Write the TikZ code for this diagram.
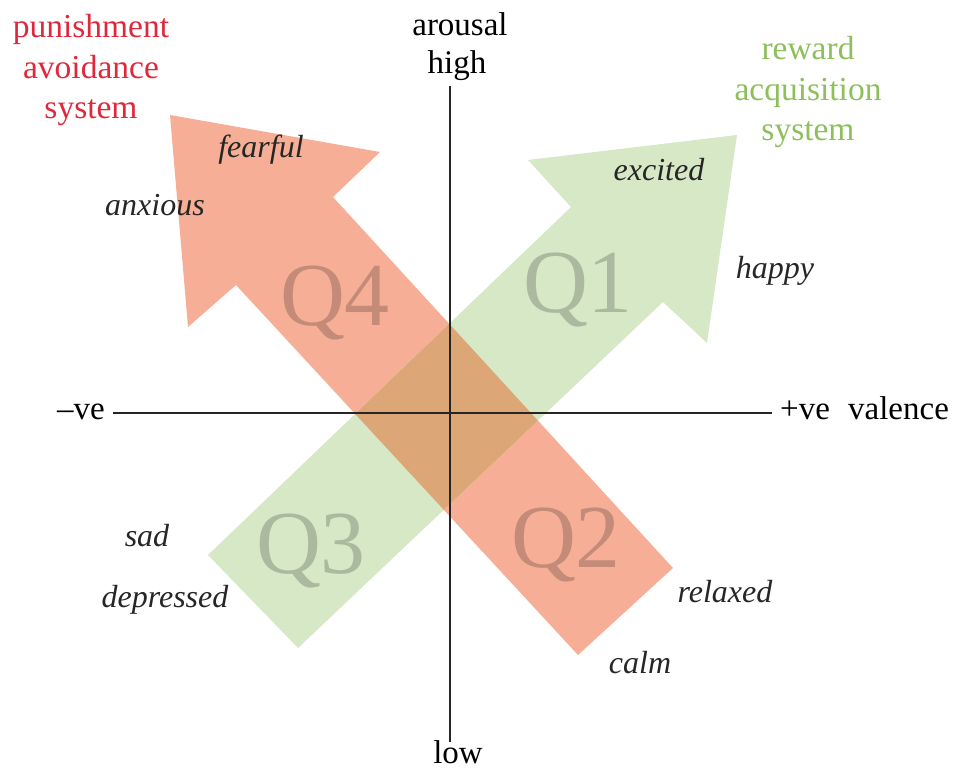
\documentclass[tikz,border=0pt]{standalone}
\usepackage{fontspec}
\setmainfont{Liberation Serif}
\usepackage{tikz}
\definecolor{punfill}{HTML}{F6AF96}
\definecolor{rewfill}{HTML}{D6E8C6}
\definecolor{bothfill}{HTML}{DCA676}
\definecolor{puntext}{HTML}{E0283C}
\definecolor{rewtext}{HTML}{8DBF5B}

\begin{document}
\begin{tikzpicture}[x=1pt, y=-1pt,
  word/.style={font=\fontsize{32}{38}\selectfont\itshape, text=black!85, inner sep=0pt, anchor=base},
  axlab/.style={font=\fontsize{33}{40}\selectfont, inner sep=0pt, anchor=base},
  quad/.style={font=\fontsize{90}{90}\selectfont, text=black, text opacity=0.2, inner sep=0pt, anchor=base},
  sys/.style={font=\fontsize{33.5}{40.5}\selectfont, align=center, inner sep=0pt}]
  \useasboundingbox (0, 0) rectangle (953, 769);
  % the two system arrows
  \fill [punfill] (673, 568) -- (333, 197) -- (380, 152) -- (170, 115) -- (188, 327) -- (236, 285) -- (578, 655) -- cycle;
  \fill [rewfill] (208, 555) -- (571, 207) -- (528, 160) -- (737, 135) -- (707, 343) -- (663, 302) -- (298, 648) -- cycle;
  \begin{scope}
    \clip (673, 568) -- (333, 197) -- (380, 152) -- (170, 115) -- (188, 327) -- (236, 285) -- (578, 655) -- cycle;
    \fill [bothfill] (208, 555) -- (571, 207) -- (528, 160) -- (737, 135) -- (707, 343) -- (663, 302) -- (298, 648) -- cycle;
  \end{scope}
  % axes
  \coordinate (YT) at (450, 86);
  \coordinate (YB) at (450, 742);
  \coordinate (XL) at (113, 413);
  \coordinate (XR) at (772, 413);
  \draw [line width=1.3pt, black!85] (YT) -- (YB);
  \draw [line width=1.3pt, black!85] (XL) -- (XR);
  \node [axlab] (AR) at (460, 35) {arousal};
  \node [axlab] (HI) at (457, 73) {high};
  \node [axlab] (LO) at (458, 763) {low};
  \node [axlab, anchor=base east] (NV) at (105, 419) {--ve};
  \node [axlab, anchor=base west] (PV) at (780, 419) {+ve\hspace{0.55em}valence};
  % quadrants
  \node [quad] (QA) at (578, 312) {Q1};
  \node [quad] (QB) at (566, 567) {Q2};
  \node [quad] (QC) at (311, 573) {Q3};
  \node [quad] (QD) at (335, 325) {Q4};
  % moods
  \node [word] (FE) at (261, 157) {fearful};
  \node [word] (AN) at (155, 215) {anxious};
  \node [word] (EX) at (659, 180) {excited};
  \node [word] (HA) at (775, 278) {happy};
  \node [word] (SA) at (147, 546) {sad};
  \node [word] (DE) at (165, 607) {depressed};
  \node [word] (RE) at (725, 602) {relaxed};
  \node [word] (CA) at (640, 673) {calm};
  % systems
  \node [sys, text=puntext] (PS) at (91, 70) {punishment\\avoidance\\system};
  \node [sys, text=rewtext] (RS) at (808, 92) {reward\\acquisition\\system};
\end{tikzpicture}
\end{document}
